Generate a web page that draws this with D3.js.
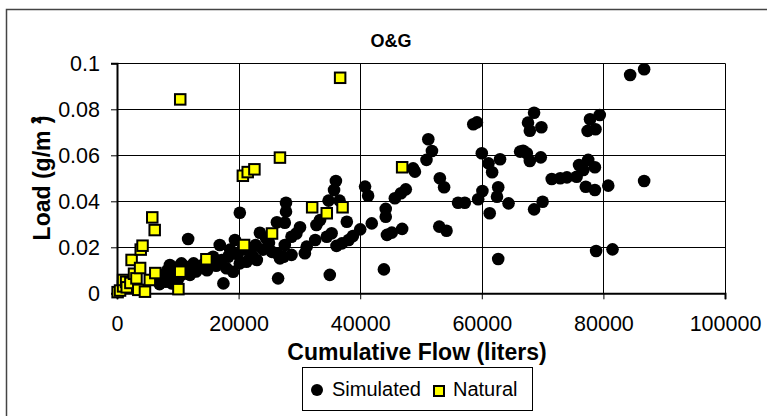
<!DOCTYPE html>
<html>
<head>
<meta charset="utf-8">
<script src="https://cdn.jsdelivr.net/npm/d3@7"></script>
<style>
  html, body { margin: 0; padding: 0; background: #fff; }
  svg { display: block; }
  text { font-family: "Liberation Sans", Arial, sans-serif; fill: #000; }
</style>
</head>
<body>
<svg id="chart" width="767" height="416"></svg>
<script>
// ---- Data (cumulative flow in liters, load in g/m^2) ----
const chartTitle = "O&G";
const xTicks = [0, 20000, 40000, 60000, 80000, 100000];
const yTicks = [0, 0.02, 0.04, 0.06, 0.08, 0.1];
const seriesNames = ["Simulated", "Natural"];

const simulatedFlow = [7000,7300,7600,8000,8300,8700,9000,9200,9600,10000,10400,10600,10600,11200,11700,12000,12600,13000,13700,14200,14800,15300,15800,16300,16900,17200,17500,18000,18300,18600,19100,19400,19800,20200,20200,20600,21300,21800,22200,22800,23000,23500,24000,24500,25000,25500,26300,26300,26500,26800,27400,27600,27600,27800,27800,28700,28700,29500,30100,30900,31200,32600,32800,33400,34500,34800,35000,35300,35700,36000,36100,36600,37000,37800,38100,38800,40000,40800,41300,41900,43900,44200,44200,44400,45200,45700,46700,46900,47500,48700,49000,50900,51200,51800,53000,53100,53800,54200,56100,57200,58600,59200,59400,60000,60100,61100,61300,61700,62500,62700,62700,63000,64400,66300,66800,67400,67600,67900,67900,68600,68600,69700,69800,70000,71500,72900,74000,75600,76000,76700,77100,77400,77500,77800,78600,78600,78700,78800,79400,80800,81500,84400,86700,86700];
const simulatedLoad = [0.004,0.006,0.008,0.005,0.010,0.0123,0.0043,0.008,0.011,0.006,0.012,0.008,0.013,0.0116,0.0236,0.008,0.013,0.0095,0.0116,0.0125,0.010,0.013,0.0159,0.012,0.021,0.0145,0.0043,0.0109,0.0159,0.019,0.0094,0.0232,0.017,0.013,0.035,0.019,0.0137,0.018,0.0167,0.021,0.0145,0.0263,0.019,0.024,0.022,0.018,0.0309,0.0174,0.0065,0.0152,0.0159,0.021,0.0307,0.0355,0.0394,0.0246,0.0167,0.026,0.0287,0.0174,0.0203,0.0232,0.0297,0.0319,0.0246,0.0403,0.008,0.0261,0.0449,0.0488,0.0206,0.0403,0.0217,0.0311,0.0232,0.0249,0.0278,0.0464,0.0424,0.0304,0.0104,0.0367,0.0333,0.0254,0.0264,0.0413,0.0435,0.028,0.0452,0.0543,0.0529,0.058,0.067,0.0619,0.029,0.05,0.0461,0.0272,0.0394,0.0394,0.0735,0.0743,0.0409,0.0609,0.0445,0.0565,0.0348,0.0526,0.042,0.0461,0.0149,0.0583,0.0391,0.0616,0.062,0.0609,0.0742,0.0707,0.0575,0.0785,0.0365,0.0591,0.0722,0.0398,0.0497,0.05,0.0504,0.0507,0.0558,0.0536,0.0463,0.0706,0.058,0.0757,0.0548,0.0449,0.0713,0.0184,0.0775,0.0468,0.0191,0.0949,0.0974,0.0488];

const naturalFlow = [100,500,1000,1000,1500,1600,2200,2400,2800,3200,3500,3800,3900,4200,4600,5400,5800,6200,6300,10100,10400,10400,14700,20900,20700,21500,22600,25500,26800,32100,34500,36700,37100,46900];
const naturalLoad = [0.0005,0.0012,0.003,0.0058,0.005,0.0026,0.0045,0.0145,0.0085,0.0065,0.0015,0.011,0.019,0.0207,0.0007,0.0058,0.033,0.0275,0.0088,0.0018,0.0094,0.0843,0.0148,0.021,0.0511,0.0527,0.0539,0.026,0.059,0.0374,0.0348,0.0937,0.0374,0.0548];

const simulated = simulatedFlow.map((f, i) => ({ x: f, y: simulatedLoad[i] }));
const natural = naturalFlow.map((f, i) => ({ x: f, y: naturalLoad[i] }));

// ---- Layout ----
const svg = d3.select("#chart");
const plot = { left: 117, right: 725, top: 63.3, bottom: 293.3 };

const x = d3.scaleLinear().domain([0, 100000]).range([plot.left, plot.right]);
const y = d3.scaleLinear().domain([0, 0.1]).range([plot.bottom, plot.top]);

// outer chart frame (only top/left edges visible in the crop)
svg.append("rect")
  .attr("x", 6.5).attr("y", 9.5)
  .attr("width", 820).attr("height", 450)
  .attr("fill", "none").attr("stroke", "#444").attr("stroke-width", 1.5);

// gridlines
svg.append("g").selectAll("line").data(yTicks.filter(d => d > 0)).join("line")
  .attr("x1", plot.left).attr("x2", plot.right)
  .attr("y1", d => Math.round(y(d)) + 0.5).attr("y2", d => Math.round(y(d)) + 0.5)
  .attr("stroke", "#000").attr("stroke-width", 1);
svg.append("g").selectAll("line").data(xTicks.filter(d => d > 0)).join("line")
  .attr("y1", plot.top).attr("y2", plot.bottom)
  .attr("x1", d => Math.round(x(d)) + 0.5).attr("x2", d => Math.round(x(d)) + 0.5)
  .attr("stroke", "#000").attr("stroke-width", 1);

// axes
const yAxis = svg.append("g")
  .attr("transform", `translate(${plot.left},0)`)
  .call(d3.axisLeft(y).tickValues(yTicks).tickSize(6).tickPadding(11)
    .tickFormat(d => String(+d.toFixed(2))));
const xAxis = svg.append("g")
  .attr("transform", `translate(0,${plot.bottom})`)
  .call(d3.axisBottom(x).tickValues(xTicks).tickSize(6).tickPadding(16)
    .tickFormat(d3.format("d")));
[yAxis, xAxis].forEach(g => {
  g.select(".domain").attr("stroke", "#000").attr("stroke-width", 2);
  g.selectAll(".tick line").attr("stroke", "#000").attr("stroke-width", 1);
  g.selectAll(".tick text").attr("font-size", 21.5)
    .attr("font-family", "Liberation Sans, Arial, sans-serif").attr("fill", "#000");
});

// simulated (black circles)
svg.append("g").selectAll("circle").data(simulated).join("circle")
  .attr("cx", d => x(d.x)).attr("cy", d => y(d.y)).attr("r", 6.3)
  .attr("fill", "#000");

// natural (yellow squares)
const sq = 10.5;
svg.append("g").selectAll("rect").data(natural).join("rect")
  .attr("x", d => x(d.x) - sq / 2).attr("y", d => y(d.y) - sq / 2)
  .attr("width", sq).attr("height", sq)
  .attr("fill", "#FFFF00").attr("stroke", "#000").attr("stroke-width", 2);

// title
svg.append("text").attr("x", 391).attr("y", 47).attr("text-anchor", "middle")
  .attr("font-size", 18).attr("font-weight", "bold").text(chartTitle);

// x axis title
svg.append("text").attr("x", 417).attr("y", 360).attr("text-anchor", "middle")
  .attr("font-size", 23).attr("font-weight", "bold").text("Cumulative Flow (liters)");

// y axis title
const yt = svg.append("text")
  .attr("transform", "translate(50,178) rotate(-90)")
  .attr("text-anchor", "middle")
  .attr("font-size", 23).attr("font-weight", "bold");
yt.append("tspan").text("Load (g/m ");
yt.append("tspan").attr("font-size", 14).attr("dy", -9).text("2");
yt.append("tspan").attr("dy", 9).attr("dx", -7).text(")");

// legend
const lg = svg.append("g");
lg.append("rect").attr("x", 302.5).attr("y", 367.5).attr("width", 230).attr("height", 43)
  .attr("fill", "#fff").attr("stroke", "#000").attr("stroke-width", 1);
lg.append("circle").attr("cx", 317).attr("cy", 390).attr("r", 6).attr("fill", "#000");
lg.append("text").attr("x", 332).attr("y", 396).attr("font-size", 20).text(seriesNames[0]);
lg.append("rect").attr("x", 434).attr("y", 386).attr("width", 10).attr("height", 10)
  .attr("fill", "#FFFF00").attr("stroke", "#000").attr("stroke-width", 2);
lg.append("text").attr("x", 453).attr("y", 396).attr("font-size", 20).text(seriesNames[1]);
</script>
</body>
</html>
